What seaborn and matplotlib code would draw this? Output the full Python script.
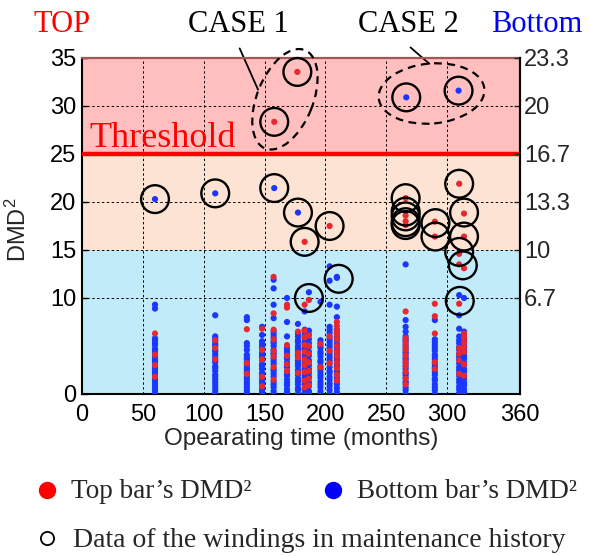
import matplotlib
matplotlib.use("Agg")
import matplotlib.pyplot as plt
import matplotlib.transforms as mtransforms
from matplotlib.patches import Ellipse
from matplotlib.lines import Line2D
import pandas as pd
import seaborn as sns

# ---------------- data ----------------
# operating time (months) of each measured winding group
column_months = [60, 109.5, 135.5, 148, 157.5, 168.5, 177.5, 183, 186.5,
                 196, 203.5, 209.5, 266, 290, 310, 314]

# DMD^2 of the top bars, one list per winding group
top_bar_dmd = [
    [6.3, 4.1, 3.0, 1.8],
    [5.6, 4.8, 3.6],
    [6.75, 3.2, 2.1],
    [6.8, 4.6, 3.6, 1.8, 0.8],
    [12.2, 8.4, 6.7, 5.7, 4.5, 3.9, 2.8, 1.5],
    [9.3, 9.0, 5.1, 4.0, 3.1, 2.4],
    [6.5, 4.3, 3.8, 2.2],
    [9.3, 6.6, 5.9, 5.1, 4.4, 3.6, 3.0, 2.3, 1.4, 0.7],
    [9.8, 6.1, 5.0, 4.2, 3.3, 2.4, 1.6, 0.9],
    [5.2, 2.8],
    [6.0, 4.5, 3.2],
    [7.5, 7.1, 6.6, 6.2, 5.7, 5.0, 4.4, 3.9, 3.3, 2.7, 2.0, 1.4],
    [8.6, 5.8, 5.3, 4.9, 4.6, 4.0, 3.4, 2.9, 2.3, 1.6, 1.0],
    [9.4, 8.1, 6.3, 3.3, 2.6],
    [9.4, 4.8, 4.2, 3.5, 2.1],
    [6.3, 5.9, 5.4, 4.9, 4.4, 3.1, 1.9],
]

# DMD^2 of the bottom bars, one list per winding group
bottom_bar_dmd = [
    [9.3, 8.9, 5.8, 5.6, 5.3, 5.1, 4.7, 4.5, 4.2, 3.9, 3.6, 3.4, 3.1, 2.8,
     2.6, 2.3, 2.0, 1.7, 1.5, 1.2, 0.9, 0.6, 0.3, 0.0],
    [8.2, 6.0, 5.8, 5.5, 5.2, 5.0, 4.6, 4.4, 4.1, 3.8, 3.5, 3.3, 2.9, 2.7,
     2.4, 2.0, 1.8, 1.5, 1.2, 0.9, 0.6, 0.3, 0.0],
    [8.0, 7.7, 5.3, 5.0, 4.6, 4.1, 3.8, 3.6, 3.3, 3.0, 2.7, 2.5, 2.2, 1.8,
     1.6, 1.3, 1.0, 0.7, 0.4, 0.1],
    [7.0, 6.15, 5.5, 5.2, 4.9, 4.7, 4.3, 4.0, 3.8, 3.5, 3.1, 2.9, 2.6, 2.2,
     2.0, 1.7, 1.4, 1.1, 0.8, 0.5, 0.2, 0.0],
    [11.9, 11.0, 9.3, 7.9, 6.5, 6.2, 5.9, 5.5, 5.3, 5.0, 4.6, 4.3, 4.1, 3.7,
     3.4, 3.1, 2.6, 2.4, 2.1, 1.8, 1.3, 1.0, 0.7, 0.3, 0.0],
    [10.0, 7.5, 6.0, 4.8, 4.5, 4.2, 3.9, 3.7, 3.3, 3.0, 2.8, 2.4, 2.1, 1.9,
     1.5, 1.2, 0.9, 0.5, 0.2, 0.0],
    [7.3, 6.3, 6.0, 5.6, 5.4, 5.0, 4.7, 4.5, 4.1, 3.9, 3.5, 3.2, 2.9, 2.5,
     2.3, 2.0, 1.6, 1.3, 1.0, 0.6, 0.4, 0.0],
    [8.6, 6.7, 6.4, 6.1, 5.8, 5.4, 5.2, 4.8, 4.6, 4.1, 3.8, 3.4, 3.1, 2.7,
     2.5, 2.0, 1.7, 1.3, 1.0, 0.5, 0.1],
    [10.6, 6.6, 6.2, 5.7, 5.3, 4.9, 4.4, 4.0, 3.5, 3.0, 2.6, 2.2, 1.8, 1.2,
     0.8, 0.3, 0.0],
    [9.6, 5.6, 5.3, 5.0, 4.8, 4.4, 4.2, 3.9, 3.5, 3.3, 2.9, 2.6, 2.3, 2.0,
     1.7, 1.3, 1.0, 0.7, 0.3, 0.0],
    [13.3, 11.8, 9.3, 7.0, 6.7, 6.4, 6.0, 5.7, 5.4, 5.1, 4.8, 4.4, 4.1, 3.8,
     3.5, 3.2, 2.8, 2.4, 2.2, 1.8, 1.5, 1.1, 0.8, 0.4, 0.0],
    [12.2, 12.1, 9.1, 8.0, 6.7, 6.3, 5.9, 5.6, 5.2, 4.9, 4.6, 4.2, 3.8, 3.5,
     3.1, 2.8, 2.4, 2.1, 1.7, 1.3, 1.0, 0.6, 0.2, 0.0],
    [13.5, 7.7, 7.0, 6.5, 6.0, 5.7, 5.5, 5.1, 4.8, 4.4, 4.2, 3.8, 3.6, 3.2,
     2.9, 2.6, 2.2, 2.0, 1.7, 1.3, 1.1, 0.7, 0.4, 0.0],
    [7.7, 5.7, 5.4, 5.1, 4.8, 4.5, 4.1, 3.9, 3.6, 3.2, 2.9, 2.7, 2.3, 2.0,
     1.6, 1.4, 1.0, 0.7, 0.4, 0.0],
    [10.3, 8.2, 6.8, 6.0, 5.6, 5.3, 4.9, 4.6, 4.2, 3.9, 3.6, 3.2, 2.8, 2.5,
     2.2, 1.9, 1.5, 1.2, 0.8, 0.5, 0.1],
    [10.0, 6.5, 6.2, 5.8, 5.5, 5.1, 4.7, 4.4, 4.0, 3.7, 3.3, 3.0, 2.6, 2.3,
     1.9, 1.6, 1.2, 0.9, 0.5, 0.2, 0.0],
]

# isolated high readings
top_high_months = [158, 177, 183, 203.5, 266, 266, 266, 266, 290, 290,
                   310, 314, 314, 310, 310, 314]
top_high_dmd = [28.35, 33.55, 15.85, 17.5, 20.4, 18.6, 18.0, 17.6, 17.95,
                16.4, 21.9, 18.8, 16.4, 14.6, 13.5, 13.1]
bottom_high_months = [60, 109.5, 158, 177.5, 266.5, 309.5]
bottom_high_dmd = [20.3, 20.9, 21.45, 18.9, 30.9, 31.6]

# windings that appear in the maintenance history
maintenance_months = [60, 109.5, 158, 177.5, 183, 203.5, 186.5, 211,
                      266, 266, 266, 266, 266, 290.5, 290.5,
                      310, 314, 314, 310, 313, 310.5,
                      158, 177, 266.5, 309.5]
maintenance_dmd = [20.3, 20.9, 21.45, 18.9, 15.85, 17.5, 10.0, 12.0,
                   20.4, 19.0, 18.5, 17.9, 17.6, 17.8, 16.4,
                   21.9, 18.9, 16.4, 14.8, 13.4, 9.7,
                   28.35, 33.55, 30.9, 31.6]

x_ticks = [0, 50, 100, 150, 200, 250, 300, 360]
y_ticks = [0, 10, 15, 20, 25, 30, 35]
bottom_scale_labels = ["6.7", "10", "13.3", "16.7", "20", "23.3"]
threshold = 25
zone_edges = [0, 15, 25, 35]
zone_colors = ["#c2ebf9", "#fde3d3", "#ffbfbf"]

RED = "#e8282e"
BLUE = "#1a36ff"

# ---------------- assemble ----------------
# bottom bars first so that the sparser top-bar readings stay visible
rows = []
for m, vals in zip(column_months, bottom_bar_dmd):
    rows += [(m, v, "Bottom") for v in vals]
rows += [(m, v, "Bottom") for m, v in zip(bottom_high_months, bottom_high_dmd)]
for m, vals in zip(column_months, top_bar_dmd):
    rows += [(m, v, "Top") for v in vals]
rows += [(m, v, "Top") for m, v in zip(top_high_months, top_high_dmd)]
df = pd.DataFrame(rows, columns=["month", "dmd", "bar"])
maint = pd.DataFrame({"month": maintenance_months, "dmd": maintenance_dmd})

# ---------------- figure ----------------
sns.set_theme(style="white")
plt.rcParams["font.family"] = ["Liberation Sans", "DejaVu Sans"]
plt.rcParams["mathtext.fontset"] = "custom"
plt.rcParams["mathtext.rm"] = "Liberation Sans"
plt.rcParams["mathtext.it"] = "Liberation Sans"

W, H = 589, 556
fig = plt.figure(figsize=(W / 100, H / 100), dpi=100)
fig.patch.set_facecolor("white")
ax = fig.add_axes([82 / W, 1 - 394 / H, 438 / W, 336 / H])
ax.set_facecolor("none")

for lo, hi, c in zip(zone_edges[:-1], zone_edges[1:], zone_colors):
    ax.axhspan(lo, hi, color=c, lw=0, zorder=0.1)

ax.set_xlim(0, 360)
ax.set_ylim(0, 35)
ax.set_xticks(x_ticks)
ax.set_yticks(y_ticks)
ax.set_axisbelow(True)
ax.grid(True, color="black", linestyle=(0, (2.5, 2.5)), linewidth=0.7)

ax.axhline(threshold, color="#ff0000", lw=3.2, zorder=3)

sns.scatterplot(data=df, x="month", y="dmd", hue="bar",
                palette={"Top": RED, "Bottom": BLUE}, s=20, linewidth=0,
                legend=False, ax=ax, zorder=4)
sns.scatterplot(data=maint, x="month", y="dmd", s=400, facecolors="none",
                edgecolors="black", linewidth=1.7, legend=False, ax=ax,
                zorder=5, clip_on=False)

# dashed groupings of the two highlighted cases
for (cx, cy), w, h, ang in [((166.8, 30.7), 1.06, 0.56, 68),
                            ((287.3, 31.3), 1.06, 0.60, 5)]:
    tr = fig.dpi_scale_trans + mtransforms.ScaledTranslation(cx, cy, ax.transData)
    ax.add_patch(Ellipse((0, 0), w, h, angle=ang, transform=tr, fill=False,
                         ec="black", lw=1.6, ls=(0, (3.5, 2.5)),
                         clip_on=False, zorder=6))
ax.plot([129.6, 144.7], [36.0, 31.7], color="black", lw=1.3, clip_on=False)
ax.plot([270.0, 285.5], [36.1, 34.4], color="black", lw=1.3, clip_on=False)

ax.text(5.8, 25.7, "Threshold", color="#ff0000", fontsize=26,
        family="Liberation Serif", ha="left", va="baseline", zorder=6)

# axes styling
for side in ["left", "right", "bottom"]:
    ax.spines[side].set_color("black")
    ax.spines[side].set_linewidth(1.5)
ax.spines["top"].set_color("#a05858")
ax.spines["top"].set_linewidth(1.6)
ax.tick_params(axis="both", direction="in", length=4, width=1,
               labelsize=17, colors="black")
ax.tick_params(axis="x", pad=7)
ax.tick_params(axis="y", pad=4)
ax.set_xlabel("Opearating time (months)", fontsize=17.5, labelpad=2)
ax.set_ylabel("DMD$^2$", fontsize=17)
ax.yaxis.set_label_coords(-0.116, 0.49)

ax2 = ax.twinx()
ax2.set_ylim(0, 35)
ax2.set_yticks(y_ticks[1:])
ax2.set_yticklabels(bottom_scale_labels)
ax2.tick_params(axis="y", direction="in", length=4, width=1, labelsize=17,
                pad=3)
for side in ["left", "top", "bottom"]:
    ax2.spines[side].set_visible(False)
ax2.spines["right"].set_color("black")
ax2.spines["right"].set_linewidth(1.5)
ax2.grid(False)


def ftext(px, py, s, **kw):
    fig.text(px / W, 1 - py / H, s, **kw)


serif = "Liberation Serif"
ftext(62, 31.7, "TOP", color="#ff0000", fontsize=22, family=serif,
      ha="center", va="baseline")
ftext(238, 31.7, "CASE 1", color="black", fontsize=22, family=serif,
      ha="center", va="baseline")
ftext(408.5, 31.7, "CASE 2", color="black", fontsize=22, family=serif,
      ha="center", va="baseline")
ftext(537, 31.7, "Bottom", color="#0000ff", fontsize=22, family=serif,
      ha="center", va="baseline")

# legend
def fmark(px, py, **kw):
    fig.add_artist(Line2D([px / W], [1 - py / H], transform=fig.transFigure,
                          linestyle="none", marker="o", **kw))


fmark(47, 490, markersize=11.5, markerfacecolor="#ff0000",
      markeredgecolor="#ff0000")
ftext(71.4, 497.7, "Top bar\u2019s DMD\u00b2", fontsize=19.5, family=serif,
      ha="left", va="baseline")
fmark(332.5, 490, markersize=11.5, markerfacecolor="#0000ff",
      markeredgecolor="#0000ff")
ftext(357, 497.7, "Bottom bar\u2019s DMD\u00b2", fontsize=19.5, family=serif,
      ha="left", va="baseline")
fmark(47, 538, markersize=9.5, markerfacecolor="none",
      markeredgecolor="black", markeredgewidth=1.3)
ftext(73, 546.7, "Data of the windings in maintenance history",
      fontsize=20, family=serif, ha="left", va="baseline")

fig.savefig("out.png", dpi=100)
